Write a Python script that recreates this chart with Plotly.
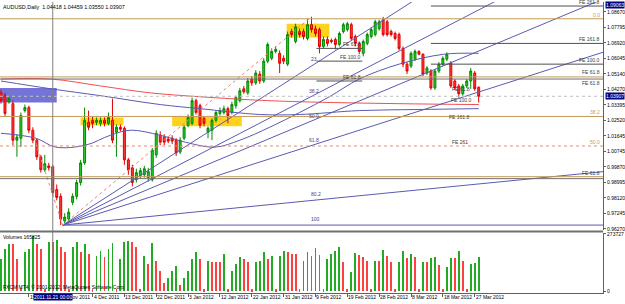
import plotly.graph_objects as go

# ---------------- data ----------------
title_text = "AUDUSD,Daily  1.04418 1.04459 1.03550 1.03907"

opens = [1.0410,1.0394,1.0360,1.0349,1.0143,1.0154,1.0310,1.0327,1.0199,1.0143,
         1.0049,0.9976,0.9998,0.9993,0.9865,0.9826,0.9687,0.9698,0.9792,0.9826,
         0.9904,1.0015,1.0244,1.0255,1.0244,1.0238,1.0255,1.0238,1.0255,1.0188,
         1.0216,1.0210,1.0032,0.9987,0.9920,0.9943,0.9948,0.9932,0.9920,1.0060,
         1.0171,1.0160,1.0149,1.0154,1.0143,1.0076,1.0154,1.0227,1.0238,1.0366,
         1.0338,1.0266,1.0188,1.0199,1.0255,1.0294,1.0299,1.0321,1.0299,1.0338,
         1.0366,1.0433,1.0410,1.0488,1.0466,1.0516,1.0477,1.0589,1.0605,1.0644,
         1.0633,1.0605,1.0572,1.0756,1.0700,1.0756,1.0756,1.0717,1.0795,1.0772,
         1.0767,1.0672,1.0711,1.0706,1.0711,1.0683,1.0756,1.0767,1.0795,1.0728,
         1.0689,1.0633,1.0689,1.0728,1.0739,1.0772,1.0822,1.0811,1.0756,1.0745,
         1.0739,1.0661,1.0572,1.0561,1.0600,1.0644,1.0628,1.0522,1.0533,1.0438,
         1.0533,1.0572,1.0600,1.0577,1.0477,1.0449,1.0405,1.0449,1.0477,1.0522,
         1.04418]
highs = [1.0427,1.0410,1.0388,1.0366,1.0177,1.0299,1.0344,1.0338,1.0216,1.0154,
         1.0060,1.0060,1.0015,1.0004,0.9893,0.9843,0.9731,0.9759,0.9843,0.9920,
         1.0032,1.0327,1.0310,1.0277,1.0271,1.0271,1.0271,1.0299,1.0377,1.0232,
         1.0232,1.0221,1.0043,1.0004,0.9982,0.9987,0.9998,0.9987,1.0099,1.0199,
         1.0193,1.0177,1.0165,1.0171,1.0154,1.0160,1.0227,1.0288,1.0383,1.0377,
         1.0349,1.0277,1.0221,1.0266,1.0310,1.0327,1.0338,1.0332,1.0360,1.0394,
         1.0438,1.0449,1.0494,1.0505,1.0538,1.0533,1.0605,1.0694,1.0661,1.0672,
         1.0650,1.0622,1.0756,1.0772,1.0800,1.0772,1.0772,1.0828,1.0839,1.0789,
         1.0778,1.0728,1.0728,1.0717,1.0722,1.0756,1.0806,1.0811,1.0806,1.0739,
         1.0700,1.0711,1.0750,1.0778,1.0822,1.0822,1.0839,1.0822,1.0767,1.0756,
         1.0750,1.0672,1.0583,1.0644,1.0655,1.0650,1.0633,1.0561,1.0544,1.0544,
         1.0583,1.0616,1.0639,1.0589,1.0488,1.0461,1.0461,1.0488,1.0550,1.0533,
         1.04459]
lows = [1.0349,1.0277,1.0349,1.0115,1.0049,1.0104,1.0299,1.0182,1.0126,1.0032,
        0.9960,0.9965,0.9971,0.9832,0.9804,0.9664,0.9664,0.9681,0.9776,0.9809,
        0.9887,1.0004,1.0199,1.0210,1.0227,1.0221,1.0221,1.0227,1.0126,1.0049,
        1.0193,1.0004,0.9948,0.9882,0.9904,0.9926,0.9932,0.9909,0.9909,1.0043,
        1.0115,1.0115,1.0126,1.0121,1.0054,1.0065,1.0143,1.0216,1.0227,1.0288,
        1.0210,1.0221,1.0154,1.0143,1.0244,1.0282,1.0288,1.0238,1.0288,1.0321,
        1.0355,1.0405,1.0399,1.0449,1.0455,1.0461,1.0466,1.0577,1.0594,1.0633,
        1.0522,1.0572,1.0561,1.0722,1.0689,1.0722,1.0711,1.0706,1.0750,1.0728,
        1.0633,1.0661,1.0672,1.0689,1.0655,1.0672,1.0745,1.0756,1.0706,1.0672,
        1.0628,1.0616,1.0678,1.0717,1.0728,1.0761,1.0728,1.0728,1.0728,1.0706,
        1.0650,1.0555,1.0516,1.0550,1.0589,1.0622,1.0505,1.0511,1.0427,1.0427,
        1.0522,1.0561,1.0589,1.0438,1.0427,1.0383,1.0394,1.0438,1.0433,1.0422,
        1.03550]
closes = [1.0366,1.0294,1.0377,1.0143,1.0160,1.0282,1.0327,1.0199,1.0143,1.0049,
          0.9976,1.0010,0.9987,0.9848,0.9820,0.9698,0.9709,0.9737,0.9826,0.9904,
          1.0015,1.0255,1.0216,1.0238,1.0255,1.0255,1.0238,1.0271,1.0143,1.0216,
          1.0205,1.0032,0.9976,0.9904,0.9960,0.9971,0.9982,0.9965,1.0087,1.0182,
          1.0132,1.0132,1.0138,1.0138,1.0071,1.0143,1.0216,1.0271,1.0366,1.0299,
          1.0227,1.0238,1.0210,1.0255,1.0299,1.0310,1.0321,1.0282,1.0344,1.0383,
          1.0422,1.0416,1.0477,1.0466,1.0522,1.0477,1.0589,1.0683,1.0644,1.0655,
          1.0577,1.0589,1.0739,1.0739,1.0783,1.0739,1.0728,1.0795,1.0767,1.0745,
          1.0672,1.0711,1.0689,1.0700,1.0683,1.0745,1.0795,1.0800,1.0717,1.0689,
          1.0644,1.0700,1.0739,1.0767,1.0811,1.0811,1.0739,1.0739,1.0739,1.0717,
          1.0661,1.0572,1.0533,1.0633,1.0644,1.0628,1.0516,1.0550,1.0438,1.0533,
          1.0572,1.0605,1.0628,1.0449,1.0438,1.0405,1.0449,1.0477,1.0533,1.0433,
          1.03907]
volumes = [155760,202960,226560,226560,155760,14160,188800,202960,264320,226560,
           202960,9440,236000,236000,245440,212400,188800,9440,212400,236000,
           188800,226560,179360,9440,169920,193520,165200,202960,231280,9440,
           155760,236000,240720,236000,212400,9440,169920,132160,231280,146320,
           94400,37760,61360,99120,122720,28320,61360,94400,155760,188800,
           155760,9440,146320,141600,141600,141600,179360,9440,99120,132160,
           165200,155760,141600,9440,141600,146320,188800,155760,169920,9440,
           169920,193520,188800,179360,179360,9440,146320,188800,169920,207680,
           174640,9440,155760,179360,193520,212400,141600,9440,89680,184080,
           174640,165200,146320,9440,146320,146320,198240,169920,141600,9440,
           141600,193520,160480,179360,165200,9440,141600,141600,160480,165200,
           127440,9440,118000,160480,160480,193520,146320,9440,132160,136880,
           165825]
bars = list(range(len(closes)))

price_tick_vals = [1.08670,1.07795,1.06920,1.06045,1.05170,1.04295,1.03420,1.02545,
                   1.01670,1.00795,0.99920,0.99045,0.98170,0.97295,0.96420]
price_tick_text = ["1.08670","1.07795","1.06920","1.06045","1.05140","1.04270","1.03395",
                   "1.02520","1.01645","1.00745","0.99870","0.98995","0.98120","0.97245","0.96270"]
vol_max_label = 273727

date_bars = [-1,7,15,23,31,39,47,55,63,71,79,87,95,103,111,119]
date_text = ["6 Nov 2011","15 Nov 2011","24 Nov 2011","4 Dec 2011","13 Dec 2011","22 Dec 2011",
             "3 Jan 2012","12 Jan 2012","22 Jan 2012","31 Jan 2012","9 Feb 2012","19 Feb 2012",
             "28 Feb 2012","8 Mar 2012","18 Mar 2012","27 Mar 2012"]
crosshair_bar = 13
crosshair_date = "2011.11.21 00:00"
crosshair_price = "1.09063"
last_price = 1.03907

# moving averages (bar, price)
ma_red_x = [0,12.5,25,37.5,50,62.5,75,100,120]
ma_red_y = [1.0488,1.0488,1.0449,1.0410,1.0388,1.0371,1.0360,1.0349,1.0344]
ma_slow_x = [0,12.5,25,40,50,65,75,90,105,120]
ma_slow_y = [1.0477,1.0433,1.0394,1.0344,1.0321,1.0288,1.0288,1.0310,1.0316,1.0321]
ma_fast_x = [0,8.75,13.75,21.25,27.5,32.5,40,46.25,53.75,60,67.5,75,82.5,90,100,111.25,120]
ma_fast_y = [1.0182,1.0154,1.0104,1.0115,1.0171,1.0199,1.0171,1.0132,1.0104,1.0143,
             1.0216,1.0299,1.0388,1.0488,1.0572,1.0628,1.0633]

# full-width horizontal levels
tan_levels = [1.0828, 1.0500, 1.0277, 0.9937]
gray_levels = [1.0488, 0.9926]
dotted_levels = [1.0110]
# right-side FE levels (start bar)
fe_right_levels = [1.0900, 1.0689, 1.0572]
fe_right_start = 108
# middle FE short levels
fe_mid_levels = [1.0661, 1.0589, 1.0477]
fe_mid_x = [79.25, 90.75]

# Fibonacci fan rays from the November low (x0, y0, x1, y1)
fan_lines = [(15.5,0.9664,151.5,1.1617),
             (15.5,0.9664,151.5,1.1244),
             (15.5,0.9664,151.5,1.0942),
             (15.5,0.9664,151.5,1.0641),
             (15.5,0.9664,151.5,0.9966),
             (15.5,0.9664,151.5,0.9664)]
dotted_trend = [(15.5,0.9664,78.0,1.0839),(8.25,1.0160,15.5,0.9664)]

# zones (x0, x1, y0, y1)
yellow_zones = [(71.75,82.5,1.0722,1.0800),(20,30.75,1.0227,1.0271),(43,60.5,1.0221,1.0277)]
blue_zone = (-0.5,14,1.0355,1.0438)

# level labels (bar, price, text)
right_labels_tan = [(150.6,1.0828,"0.0"),(150.6,1.0277,"38.2"),(150.6,1.0110,"50.0")]
right_labels_dark = [(150.6,1.0900,"FE 261.8"),(150.6,1.0689,"FE 161.8"),(150.6,1.0572,"FE 100.0"),
                     (150.6,1.0503,"FE 61.8"),(150.6,0.9937,"FE 61.8")]
right_labels_dark_low = [(150.6,1.0488,"FE 61.8")]
fan_labels = [(77.5,1.0600,"23"),(77,1.0422,"38.2"),(77,1.0282,"50.0"),
              (77,1.0143,"61.8"),(77.5,0.9837,"80.2"),(77.5,0.9698,"100")]
mid_fe_labels = [(90.75,1.0661,"FE 61.8"),(90.75,1.0589,"FE 100.0"),(90.75,1.0477,"FE 61.8")]
low_fe_labels = [(118,1.0410,"FE 61.8"),(118.5,1.0349,"FE 100.0"),(118,1.0249,"FE 161.8"),(117.5,1.0110,"FE 261")]

# ---------------- layout constants ----------------
W, H = 625, 304
PR = 606 / W
MAIN_DOM = [1 - 231 / H, 1.0]
VOL_DOM = [1 - 295 / H, 1 - 234 / H]
X_RANGE = [-0.25, 151.25]
Y_RANGE = [0.963647, 1.092268]
V_RANGE = [-9439, 278446]
FONT = "Liberation Sans, Arial, sans-serif"
TAN = "#C49A5A"
PURPLE = "#5A5AB4"
DARK = "#3C3C3C"

fig = go.Figure()

fig.add_trace(go.Candlestick(
    x=bars, open=opens, high=highs, low=lows, close=closes,
    increasing=dict(line=dict(color="#008A00", width=1), fillcolor="#2ECC2E"),
    decreasing=dict(line=dict(color="#E00000", width=1), fillcolor="#FF3B3B"),
    whiskerwidth=0, showlegend=False, hoverinfo="skip", xaxis="x", yaxis="y"))

for xs, ys, col in [(ma_red_x, ma_red_y, "#F05050"), (ma_slow_x, ma_slow_y, PURPLE),
                    (ma_fast_x, ma_fast_y, PURPLE)]:
    fig.add_trace(go.Scatter(x=xs, y=ys, mode="lines", line=dict(color=col, width=1, shape="spline"),
                             showlegend=False, hoverinfo="skip", xaxis="x", yaxis="y"))

for (x0, y0, x1, y1) in fan_lines:
    fig.add_trace(go.Scatter(x=[x0, x1], y=[y0, y1], mode="lines", line=dict(color=PURPLE, width=1),
                             showlegend=False, hoverinfo="skip", xaxis="x", yaxis="y"))
for (x0, y0, x1, y1) in dotted_trend:
    fig.add_trace(go.Scatter(x=[x0, x1], y=[y0, y1], mode="lines",
                             line=dict(color="#F08070", width=1, dash="dot"),
                             showlegend=False, hoverinfo="skip", xaxis="x", yaxis="y"))

vol_colors = ["#22AA22"] + ["#22AA22" if volumes[i] > volumes[i - 1] else "#FF4040" for i in range(1, len(volumes))]
fig.add_trace(go.Bar(x=bars, y=volumes, marker=dict(color=vol_colors, line=dict(width=0)), width=0.22,
                     showlegend=False, hoverinfo="skip", xaxis="x2", yaxis="y2"))

shapes = []
for (x0, x1, y0, y1) in yellow_zones:
    shapes.append(dict(type="rect", xref="x", yref="y", x0=x0, x1=x1, y0=y0, y1=y1,
                       fillcolor="#FFD21E", line=dict(width=0), layer="below"))
bx0, bx1, by0, by1 = blue_zone
shapes.append(dict(type="rect", xref="x", yref="y", x0=bx0, x1=bx1, y0=by0, y1=by1,
                   fillcolor="#7474D8", line=dict(width=0), layer="below"))
for lv in tan_levels:
    shapes.append(dict(type="line", xref="x", yref="y", x0=X_RANGE[0], x1=X_RANGE[1], y0=lv, y1=lv,
                       line=dict(color=TAN, width=1)))
for lv in gray_levels:
    shapes.append(dict(type="line", xref="x", yref="y", x0=X_RANGE[0], x1=X_RANGE[1], y0=lv, y1=lv,
                       line=dict(color="#707070", width=1)))
for lv in dotted_levels:
    shapes.append(dict(type="line", xref="x", yref="y", x0=X_RANGE[0], x1=X_RANGE[1], y0=lv, y1=lv,
                       line=dict(color="#E09070", width=1, dash="dot")))
shapes.append(dict(type="line", xref="x", yref="y", x0=X_RANGE[0], x1=X_RANGE[1], y0=last_price, y1=last_price,
                   line=dict(color="#C0C0C0", width=1, dash="dot")))
for lv in fe_right_levels:
    shapes.append(dict(type="line", xref="x", yref="y", x0=fe_right_start, x1=X_RANGE[1], y0=lv, y1=lv,
                       line=dict(color="#505050", width=1)))
for lv in fe_mid_levels:
    shapes.append(dict(type="line", xref="x", yref="y", x0=fe_mid_x[0], x1=fe_mid_x[1], y0=lv, y1=lv,
                       line=dict(color="#505050", width=1)))
# crosshair
shapes.append(dict(type="line", xref="x", yref="paper", x0=crosshair_bar, x1=crosshair_bar,
                   y0=VOL_DOM[0], y1=1, line=dict(color="#808080", width=1)))
# panel separator
shapes.append(dict(type="line", xref="paper", yref="paper", x0=0, x1=PR, y0=1 - 232.5 / H, y1=1 - 232.5 / H,
                   line=dict(color="#707070", width=2)))

ann = []
def txt(x, y, s, color="#000000", xanchor="left", yanchor="middle", xref="x", yref="y", bg=None, size=5):
    d = dict(x=x, y=y, text=s, xref=xref, yref=yref, showarrow=False, xanchor=xanchor, yanchor=yanchor,
             font=dict(family=FONT, size=size, color=color), borderpad=0)
    if bg:
        d["bgcolor"] = bg
    ann.append(d)

txt(0.004, 1 - 5 / H, title_text, xref="paper", yref="paper", size=5.4)
txt(0.004, 1 - 238 / H, "Volumes 165825", xref="paper", yref="paper")
txt(0.004, 1 - 289 / H, "FXCM MT4, \u00a9 2001-2012, MetaQuotes Software Corp.", xref="paper", yref="paper")
for (x, y, s) in right_labels_tan:
    txt(x, y, s, color=TAN, xanchor="right", yanchor="bottom")
for (x, y, s) in right_labels_dark:
    txt(x, y, s, color=DARK, xanchor="right", yanchor="bottom")
for (x, y, s) in right_labels_dark_low:
    txt(x, y, s, color=DARK, xanchor="right", yanchor="top")
for (x, y, s) in fan_labels:
    txt(x, y, s, color="#3C3CA0", xanchor="left", yanchor="middle")
for (x, y, s) in mid_fe_labels + low_fe_labels:
    txt(x, y, s, color=DARK, xanchor="right", yanchor="bottom")
for b, s in zip(date_bars, date_text):
    txt(b, 1 - 299 / H, s, xref="x2", yref="paper", xanchor="left")
txt(PR + 0.003, last_price, "1.03907", color="#FFFFFF", bg="#000080", xref="paper", yref="y")
txt(PR + 0.003, 1 - 3 / H, crosshair_price, color="#FFFFFF", bg="#000080", xref="paper", yref="paper")
txt(crosshair_bar, 1 - 299 / H, crosshair_date, color="#FFFFFF", bg="#000080", xref="x2", yref="paper",
    xanchor="center")

axis_font = dict(family=FONT, size=5, color="#000000")
fig.update_layout(
    width=W, height=H, margin=dict(l=0, r=0, t=0, b=0),
    paper_bgcolor="white", plot_bgcolor="white", showlegend=False, bargap=0,
    shapes=shapes, annotations=ann,
    xaxis=dict(domain=[0, PR], range=X_RANGE, showticklabels=False, showgrid=False, zeroline=False,
               rangeslider=dict(visible=False), anchor="y", fixedrange=True),
    xaxis2=dict(domain=[0, PR], range=X_RANGE, showticklabels=False, showgrid=False, zeroline=False,
                anchor="y2", tickvals=date_bars, ticks="outside", ticklen=3, tickcolor="#606060",
                showline=True, linecolor="#606060", linewidth=1),
    yaxis=dict(domain=MAIN_DOM, range=Y_RANGE, side="right", anchor="x", tickvals=price_tick_vals,
               ticktext=price_tick_text, ticks="outside", ticklen=2, tickcolor="#606060",
               tickfont=axis_font, showgrid=False, zeroline=False, showline=True, linecolor="#606060"),
    yaxis2=dict(domain=VOL_DOM, range=V_RANGE, side="right", anchor="x2", tickvals=[0, vol_max_label],
                ticktext=["0", str(vol_max_label)], ticks="outside", ticklen=2, tickcolor="#606060",
                tickfont=axis_font, showgrid=False, zeroline=False, showline=True, linecolor="#606060"),
)

fig.write_html("out.html")
